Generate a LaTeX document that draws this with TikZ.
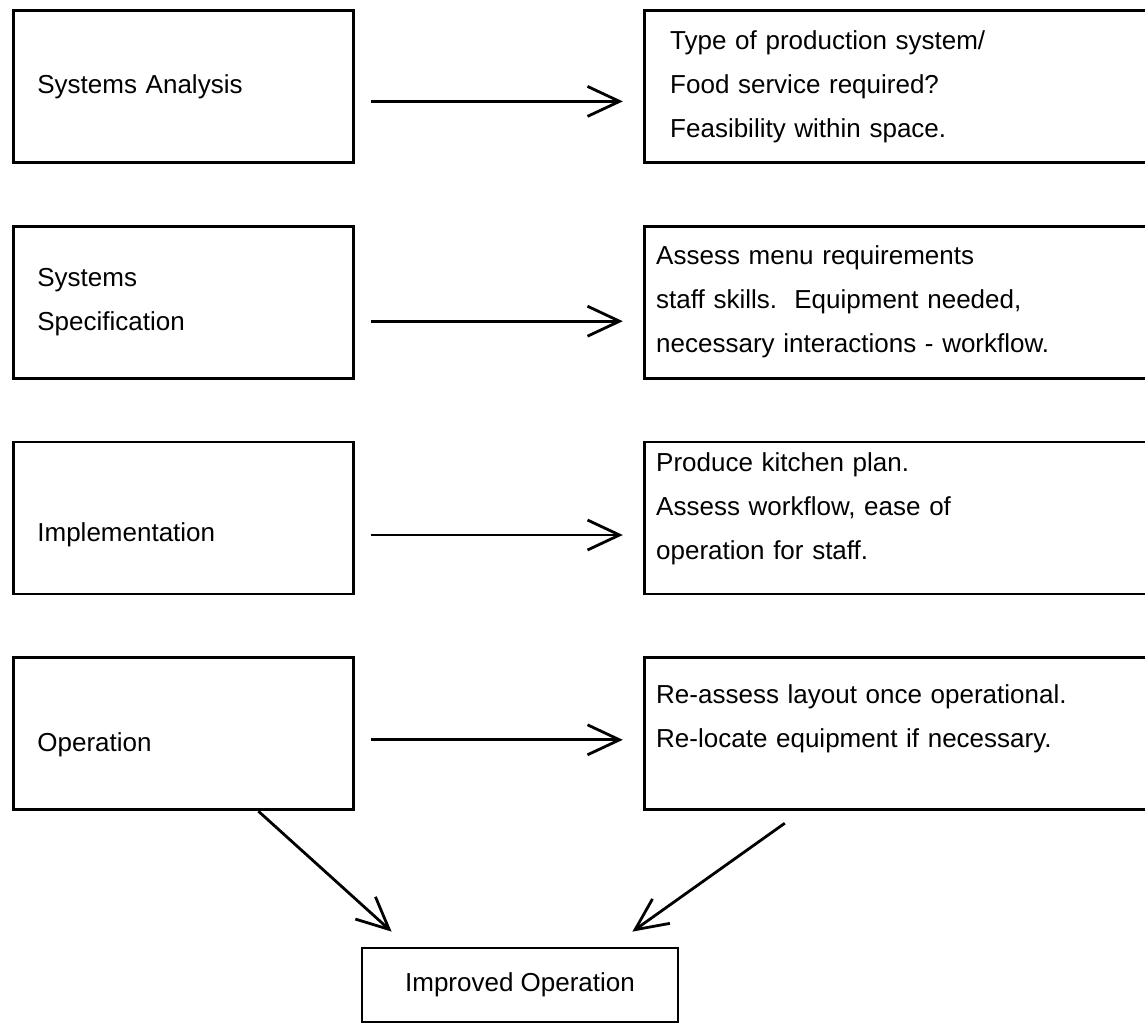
\documentclass[tikz,border=0pt]{standalone}
\usepackage{fontspec}
\setmainfont{Liberation Sans}
\usetikzlibrary{arrows.meta,positioning}

\begin{document}
\begin{tikzpicture}[
    x=0.5pt, y=-0.5pt,
    node distance=30.5pt,
    every node/.style={font=\fontsize{13}{22}\selectfont},
    stage/.style={draw, line width=1.4pt, align=left, minimum height=76pt, text width=146pt, inner xsep=12pt},
    task/.style={draw, line width=1.4pt, align=left, minimum height=76pt, text width=250pt, inner xsep=6pt},
    result/.style={draw, line width=1.4pt, align=center, minimum width=158pt, minimum height=37pt},
    flow/.style={-{Straight Barb[length=16pt,width=15pt]}, line width=1.4pt}
]
\useasboundingbox (0,0) rectangle (1145,1024);
\clip (0,0) rectangle (1145,1024);

\node[stage, anchor=north west] (analysis) at (12,9) {Systems Analysis};
\node[stage, below=of analysis] (spec) {Systems\\Specification};
\node[stage, below=of spec, text height=26pt] (impl) {Implementation};
\node[stage, below=of impl, text height=20pt] (oper) {Operation};

\node[task, right=144pt of analysis, inner xsep=13pt, text width=236pt] (feasibility) {Type of production system/\\Food service required?\\Feasibility within space.};
\node[task, right=144pt of spec] (assess) {Assess menu requirements\\staff skills.\ \ Equipment needed,\\necessary interactions - workflow.};
\node[task, right=144pt of impl, text depth=56pt] (plan) {Produce kitchen plan.\\Assess workflow, ease of\\operation for staff.};
\node[task, right=144pt of oper, text depth=40pt] (relocate) {Re-assess layout once operational.\\Re-locate equipment if necessary.};

\node[result] (improved) at (520,985) {Improved Operation};

\draw[flow] ([xshift=8pt,yshift=-7.5pt]analysis.east) -- ([xshift=-10pt,yshift=-7.5pt]feasibility.west);
\draw[flow] ([xshift=8pt,yshift=-9.5pt]spec.east) -- ([xshift=-10pt,yshift=-9.5pt]assess.west);
\draw[flow] ([xshift=8pt,yshift=-8.5pt]impl.east) -- ([xshift=-10pt,yshift=-8.5pt]plan.west);
\draw[flow] ([xshift=8pt,yshift=-3pt]oper.east) -- ([xshift=-10pt,yshift=-3pt]relocate.west);

\draw[flow] ([xshift=37.5pt]oper.south) -- ([xshift=15.5pt,yshift=7.5pt]improved.north west);
\draw[flow] ([xshift=71pt,yshift=-6pt]relocate.south west) -- ([xshift=-23.5pt,yshift=7.5pt]improved.north east);
\end{tikzpicture}
\end{document}
